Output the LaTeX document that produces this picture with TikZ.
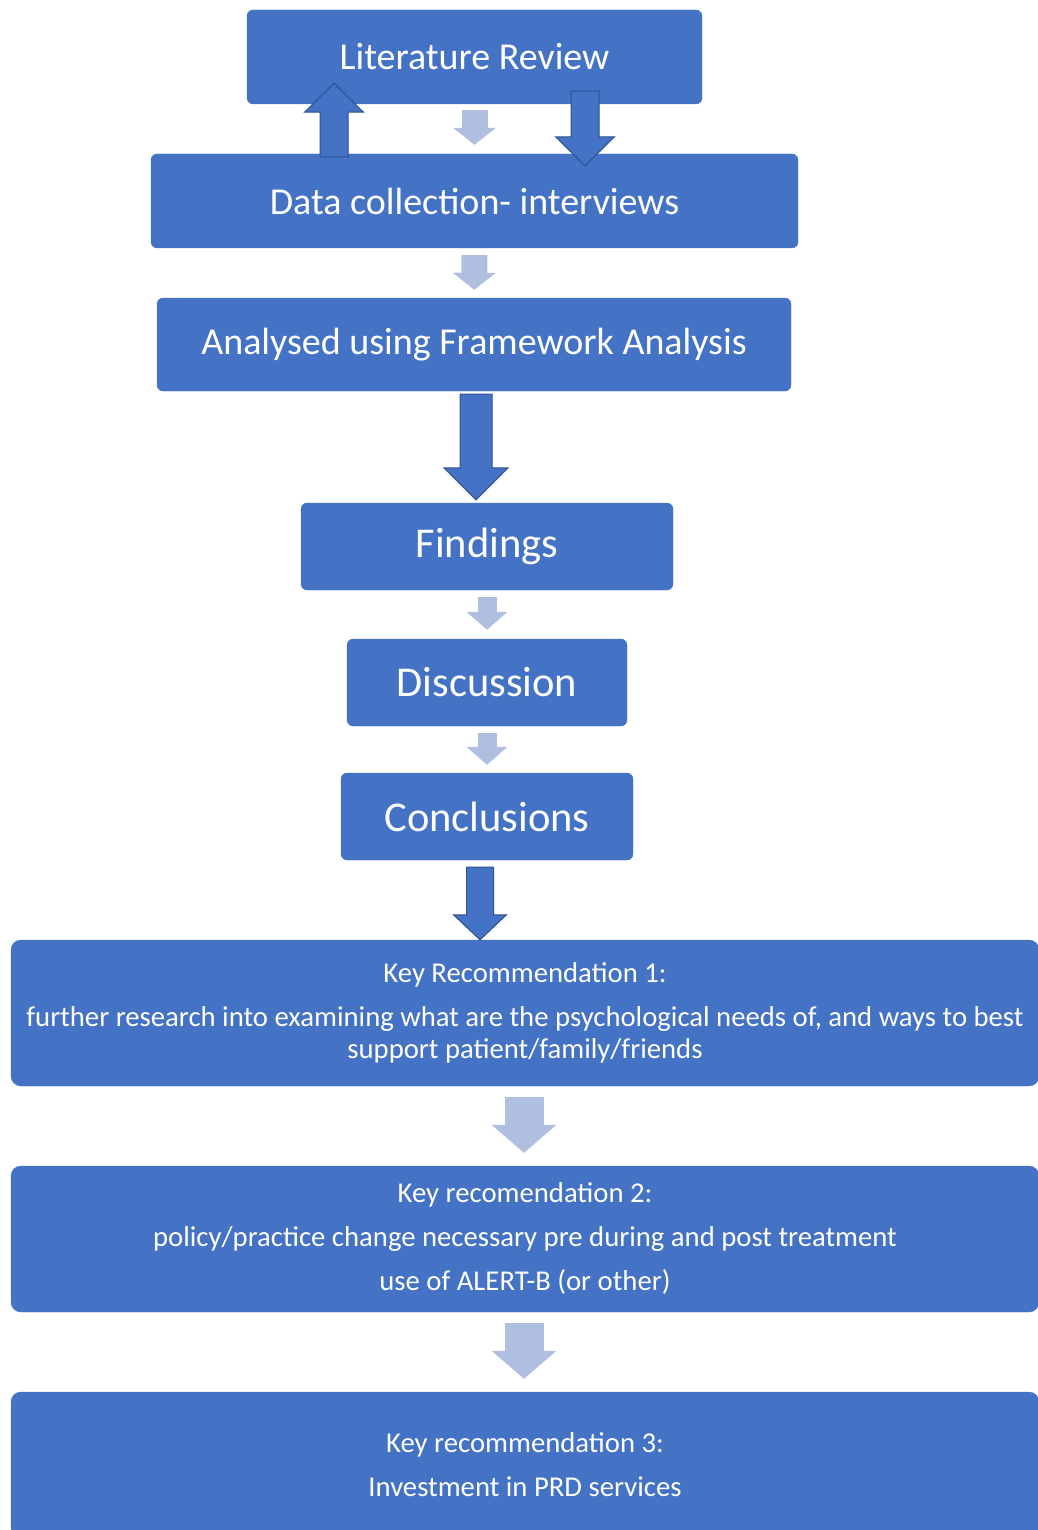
\documentclass[tikz,border=0pt]{standalone}
\usepackage{fontspec}
\setmainfont{Carlito}
\usepackage{xcolor}
\usetikzlibrary{arrows.meta, calc}

\definecolor{boxblue}{HTML}{4472C4}
\definecolor{edgeblue}{HTML}{2F528F}
\definecolor{paleblue}{HTML}{B0BFE0}

\tikzset{
  stage/.style={fill=boxblue, draw=boxblue, rounded corners=6pt, text=white,
    inner sep=0pt, align=center},
  paleflow/.style n args={3}{draw=paleblue, line width=#1,
    -{Triangle[width=#2, length=#3, line width=0pt, fill=paleblue]}},
  boldflow/.style={fill=boxblue, draw=edgeblue, line width=1pt},
}

% block arrow from #1 to #2: half shaft #3, half head #4, head length #5
\newcommand{\fatarrow}[5]{%
  \draw[boldflow] ($(#1)!#3!90:(#2)$)
    -- ($($(#2)!#5!(#1)$)!#3!-90:(#1)$)
    -- ($($(#2)!#5!(#1)$)!#4!-90:(#1)$)
    -- (#2)
    -- ($($(#2)!#5!(#1)$)!#4!90:(#1)$)
    -- ($($(#2)!#5!(#1)$)!#3!90:(#1)$)
    -- ($(#1)!#3!-90:(#2)$) -- cycle;}

\begin{document}
\begin{tikzpicture}[x=1pt, y=1pt]
  \useasboundingbox (0,0) rectangle (1037,-1530);

  % method stages
  \node[stage, minimum width=455pt, minimum height=94pt, font=\fontsize{38}{45}\selectfont]
    (lit) at (474.5,-57) {Literature Review};
  \node[stage, minimum width=647pt, minimum height=94pt, font=\fontsize{38}{45}\selectfont]
    (data) at (474.5,-201) {Data collection- interviews};
  \node[stage, minimum width=634pt, minimum height=93pt, font=\fontsize{38}{45}\selectfont]
    (ana) at (474,-344.5) {Analysed using Framework Analysis};

  % results
  \node[stage, minimum width=372pt, minimum height=87pt, font=\fontsize{42.5}{50}\selectfont]
    (fin) at (487,-546.5) {Findings};
  \node[stage, minimum width=280pt, minimum height=87pt, font=\fontsize{42.5}{50}\selectfont]
    (disc) at (487,-682.5) {Discussion};
  \node[stage, minimum width=292pt, minimum height=87pt, font=\fontsize{42.5}{50}\selectfont]
    (conc) at (487,-816.5) {Conclusions};

  % recommendations
  \node[stage, rounded corners=10pt, minimum width=1028pt, minimum height=146pt,
    font=\fontsize{28.7}{32}\selectfont] (kr1) at (525,-1013)
    {Key Recommendation 1:\\[12pt]
     further research into examining what are the psychological needs of, and ways to best\\
     support patient/family/friends};
  \node[stage, rounded corners=10pt, minimum width=1028pt, minimum height=146pt,
    font=\fontsize{28.7}{32}\selectfont] (kr2) at (525,-1239)
    {Key recomendation 2:\\[12pt]
     policy/practice change necessary pre during and post treatment\\[12pt]
     use of ALERT-B (or other)};
  \node[stage, rounded corners=10pt, minimum width=1028pt, minimum height=146pt,
    font=\fontsize{28.7}{32}\selectfont] (kr3) at (525,-1465)
    {Key recommendation 3:\\[12pt]
     Investment in PRD services};

  % ends of the bold arrows
  \coordinate (backfrom) at ([xshift=-140.5pt, yshift=-3pt]data.north);
  \coordinate (backto) at ([xshift=-140.5pt, yshift=21pt]lit.south);
  \coordinate (loopfrom) at ([xshift=110.5pt, yshift=13pt]lit.south);
  \coordinate (loopto) at ([xshift=110.5pt, yshift=-12pt]data.north);
  \coordinate (anafrom) at ([xshift=2pt, yshift=-3pt]ana.south);
  \coordinate (anato) at ([xshift=-11pt, yshift=3pt]fin.north);
  \coordinate (concfrom) at ([xshift=-7pt, yshift=-7pt]conc.south);
  \coordinate (concto) at ([xshift=-45pt]kr1.north);

  % pale arrows
  \draw[paleflow={26pt}{43pt}{17pt}, shorten <=6pt, shorten >=9pt] (lit) -- (data);
  \draw[paleflow={26pt}{43pt}{17pt}, shorten <=7pt, shorten >=8pt] (data) -- (ana);
  \draw[paleflow={19pt}{41pt}{18pt}, shorten <=7pt, shorten >=9pt] (fin) -- (disc);
  \draw[paleflow={19pt}{41pt}{18pt}, shorten <=7pt, shorten >=8pt] (disc) -- (conc);
  \draw[paleflow={39pt}{65pt}{28pt}, shorten <=11pt, shorten >=13pt]
    ([xshift=-1pt]kr1.south) -- ([xshift=-1pt]kr2.north);
  \draw[paleflow={39pt}{65pt}{28pt}, shorten <=11pt, shorten >=13pt]
    ([xshift=-1pt]kr2.south) -- ([xshift=-1pt]kr3.north);

  % bold arrows
  \fatarrow{backfrom}{backto}{14pt}{29.5pt}{29pt}
  \fatarrow{loopfrom}{loopto}{14pt}{29.5pt}{29pt}
  \fatarrow{anafrom}{anato}{16pt}{32pt}{32pt}
  \fatarrow{concfrom}{concto}{13.5pt}{26.5pt}{25pt}
\end{tikzpicture}
\end{document}
